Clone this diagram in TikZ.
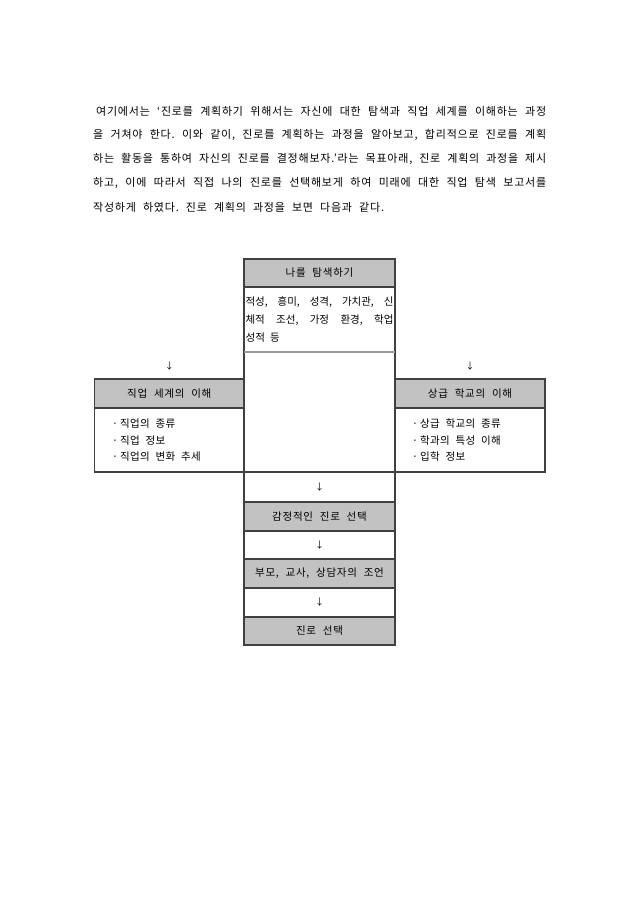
\documentclass[tikz,border=0pt]{standalone}
\usepackage{fontspec}
\setmainfont{Noto Sans CJK KR}[WordSpace=2.2]
\frenchspacing
\definecolor{cellgray}{HTML}{C2C2C2}
\definecolor{edge}{HTML}{404040}
\definecolor{thinedge}{HTML}{9A9A9A}
\tikzset{
  cell/.style={draw=edge, line width=1.1pt, rectangle, inner sep=0pt, outer sep=0pt,
    font=\fontsize{10.5}{12}\selectfont\addfontfeature{LetterSpace=7}},
  greycell/.style={cell, fill=cellgray},
  whitecell/.style={cell, fill=white},
  colw/.style={minimum width=151pt},
  sidew/.style={minimum width=150pt},
  para/.style={anchor=west, inner sep=0pt, font=\fontsize{11}{13}\selectfont\addfontfeature{LetterSpace=7}},
  celltext/.style={inner sep=0pt, font=\fontsize{10.5}{12}\selectfont},
  listtext/.style={anchor=west, inner sep=0pt, font=\fontsize{10.5}{12}\selectfont\addfontfeature{LetterSpace=3}},
  arrowtext/.style={inner sep=0pt, font=\fontsize{9}{10}\selectfont}
}
\begin{document}
\begin{tikzpicture}[x=1pt,y=-1pt]
\useasboundingbox (0,0) rectangle (640,905);

% paragraph
\node[para] (p1) at (96,111) {\makebox[450pt][s]{여기에서는 ‘진로를 계획하기 위해서는 자신에 대한 탐색과 직업 세계를 이해하는 과정}};
\node[para] (p2) at (93,135) {\makebox[453pt][s]{을 거쳐야 한다. 이와 같이, 진로를 계획하는 과정을 알아보고, 합리적으로 진로를 계획}};
\node[para] (p3) at (93,159) {\makebox[453pt][s]{하는 활동을 통하여 자신의 진로를 결정해보자.’라는 목표아래, 진로 계획의 과정을 제시}};
\node[para] (p4) at (93,183) {\makebox[453pt][s]{하고, 이에 따라서 직접 나의 진로를 선택해보게 하여 미래에 대한 직업 탐색 보고서를}};
\node[para] (p5) at (93,207) {작성하게 하였다. 진로 계획의 과정을 보면 다음과 같다.};

% centre column
\node[whitecell, colw, minimum height=120pt] (mid) at (319.5,412) {};
\node[whitecell, colw, minimum height=65pt] (selfbody) at (319.5,319.5) {};
\node[greycell, colw, minimum height=28pt] (self) at (319.5,273) {나를 탐색하기};
\draw[thinedge, line width=1.2pt] (mid.north west) -- (mid.north east);

\node[celltext] (sb1) at (319.5,302) {\makebox[148pt][s]{적성, 흥미, 성격, 가치관, 신}};
\node[celltext] (sb2) at (319.5,320) {\makebox[148pt][s]{체적 조선, 가정 환경, 학업}};
\node[celltext, anchor=west] (sb3) at (245.5,338) {성적 등};

\node[whitecell, colw, minimum height=30pt] (a1) at (319.5,487) {};
\node[greycell, colw, minimum height=29pt] (emo) at (319.5,516.5) {감정적인 진로 선택};
\node[whitecell, colw, minimum height=28pt] (a2) at (319.5,545) {};
\node[greycell, colw, minimum height=29pt] (advice) at (319.5,573.5) {부모, 교사, 상담자의 조언};
\node[whitecell, colw, minimum height=29pt] (a3) at (319.5,602.5) {};
\node[greycell, colw, minimum height=28pt] (choice) at (319.5,631) {진로 선택};

\node[arrowtext] (t1) at (a1.center) {↓};
\node[arrowtext] (t2) at (a2.center) {↓};
\node[arrowtext] (t3) at (a3.center) {↓};

% left box
\node[whitecell, minimum width=149.5pt, minimum height=64pt] (jobbody) at (169.25,440) {};
\node[greycell, minimum width=149.5pt, minimum height=29pt] (job) at (169.25,393.5) {직업 세계의 이해};
\node[listtext] (j1) at (112,424) {·\kern2pt 직업의 종류};
\node[listtext] (j2) at (112,440.5) {·\kern2pt 직업 정보};
\node[listtext] (j3) at (112,457) {·\kern2pt 직업의 변화 추세};
\node[arrowtext] (ja) at (169.25,366) {↓};

% right box
\node[whitecell, sidew, minimum height=64pt] (schbody) at (470,440) {};
\node[greycell, sidew, minimum height=29pt] (sch) at (470,393.5) {상급 학교의 이해};
\node[listtext] (s1) at (412,424) {·\kern2pt 상급 학교의 종류};
\node[listtext] (s2) at (412,440.5) {·\kern2pt 학과의 특성 이해};
\node[listtext] (s3) at (412,457) {·\kern2pt 입학 정보};
\node[arrowtext] (sa) at (470,366) {↓};
\end{tikzpicture}
\end{document}
